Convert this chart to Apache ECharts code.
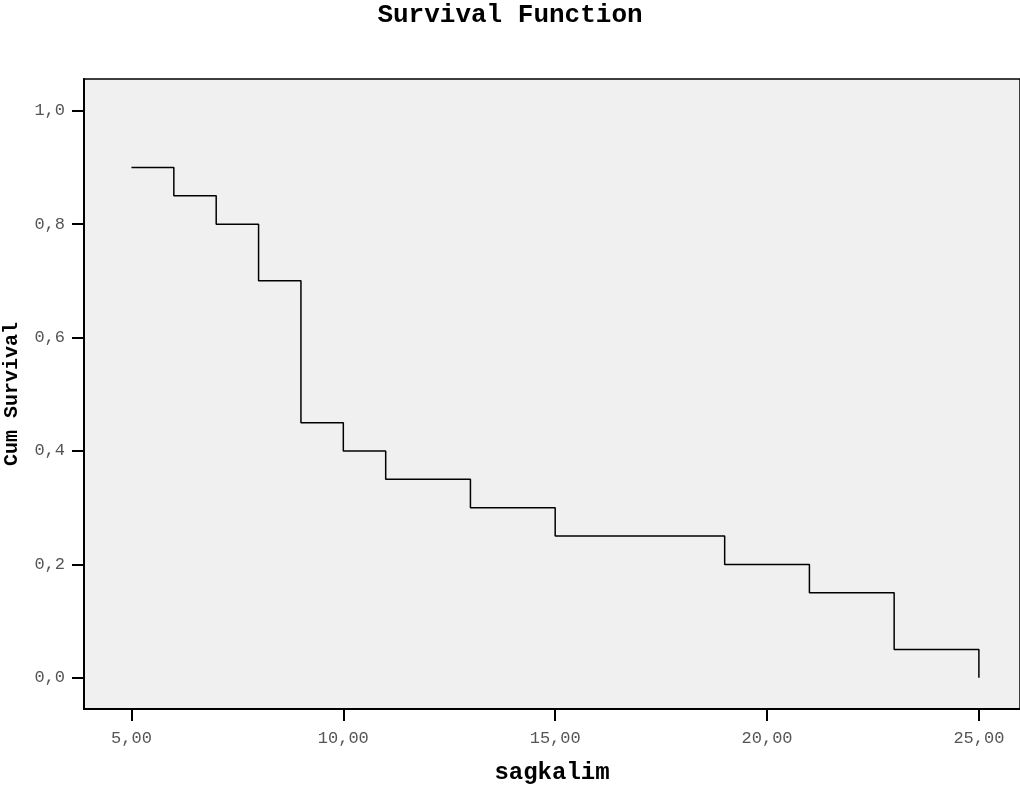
<!DOCTYPE html>
<html>
<head>
<meta charset="utf-8">
<script src="https://cdn.jsdelivr.net/npm/echarts@6/dist/echarts.min.js"></script>
<style>
    html, body { margin: 0; padding: 0; background: #fff; }
    #chart { width: 1020px; height: 794px; }
</style>
</head>
<body>
<div id="chart"></div>
<script>
    // sagkalim (time) and cumulative survival at each step
    var times = [5, 6, 7, 8, 9, 10, 11, 13, 15, 19, 21, 23, 25];
    var survival = [0.9, 0.85, 0.8, 0.7, 0.45, 0.4, 0.35, 0.3, 0.25, 0.2, 0.15, 0.05, 0.0];
    var xTicks = [5, 10, 15, 20, 25];
    var yTicks = [0, 0.2, 0.4, 0.6, 0.8, 1.0];

    var mono = "'Liberation Mono', 'Courier New', monospace";

    var points = [];
    for (var i = 0; i < times.length; i++) {
        points.push([times[i], survival[i]]);
    }

    function comma(v, d) { // 5 -> "5,00"
        return v.toFixed(d).replace('.', ',');
    }

    var myChart = echarts.init(document.getElementById('chart'), null, { renderer: 'canvas' });
    var option = {
        animation: false,
        title: {
            text: 'Survival Function',
            left: 'center',
            top: -3,
            textStyle: { fontFamily: mono, fontWeight: 'bold', fontSize: 26, color: '#000' }
        },
        grid: {
            left: 84, right: 0, top: 79, bottom: 85,
            outerBoundsMode: 'none',
            containLabel: false,
            show: true,
            backgroundColor: '#f0f0f0',
            borderColor: '#000',
            borderWidth: 1.5
        },
        xAxis: {
            type: 'value',
            min: 3.88, max: 25.97,
            name: 'sagkalim',
            nameLocation: 'middle',
            nameGap: 52,
            nameTextStyle: { fontFamily: mono, fontWeight: 'bold', fontSize: 24, color: '#000' },
            axisLine: { onZero: false, lineStyle: { color: '#000', width: 2 } },
            axisTick: { length: 12, lineStyle: { color: '#000', width: 2 }, customValues: xTicks },
            axisLabel: {
                customValues: xTicks,
                margin: 21,
                fontFamily: mono, fontSize: 17, color: '#555',
                formatter: function(v) { return comma(v, 2); }
            },
            splitLine: { show: false }
        },
        yAxis: {
            type: 'value',
            min: -0.055, max: 1.056,
            name: 'Cum Survival',
            nameLocation: 'middle',
            nameGap: 62,
            nameTextStyle: { fontFamily: mono, fontWeight: 'bold', fontSize: 20, color: '#000' },
            axisLine: { onZero: false, lineStyle: { color: '#000', width: 2 } },
            axisTick: { length: 12, lineStyle: { color: '#000', width: 2 }, customValues: yTicks },
            axisLabel: {
                customValues: yTicks,
                margin: 19,
                fontFamily: mono, fontSize: 17, color: '#555',
                formatter: function(v) { return comma(v, 1); }
            },
            splitLine: { show: false }
        },
        series: [{
            type: 'line',
            step: 'end',
            data: points,
            symbol: 'none',
            lineStyle: { color: '#000', width: 1.5 }
        }]
    };
    myChart.setOption(option);
</script>
</body>
</html>
